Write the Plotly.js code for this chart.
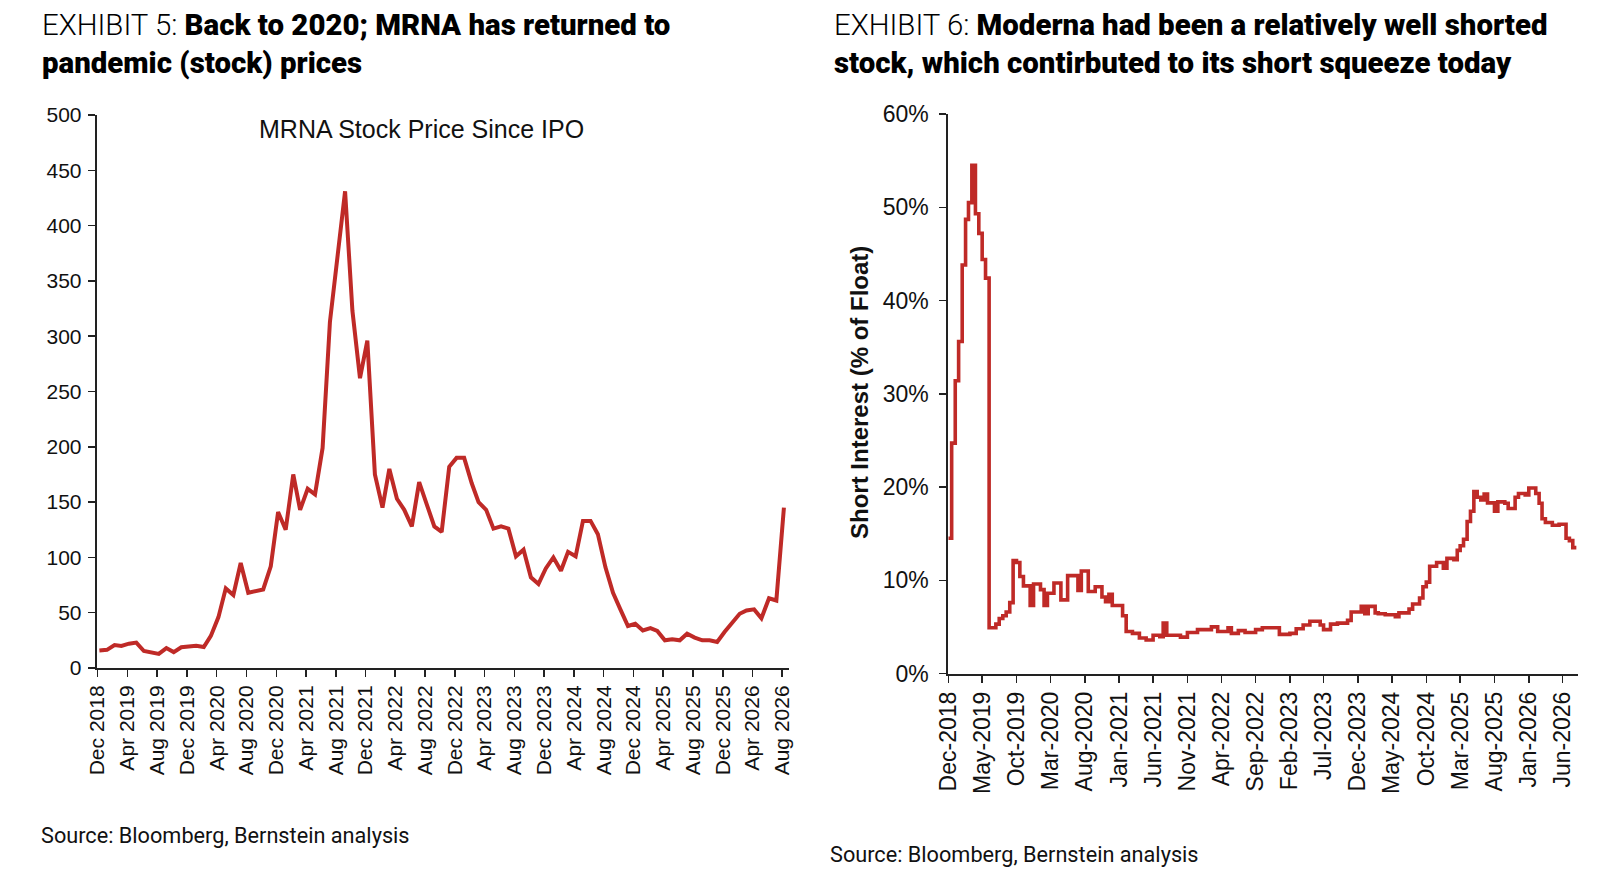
<!DOCTYPE html>
<html>
<head>
<meta charset="utf-8">
<script src="https://cdn.plot.ly/plotly-3.0.1.min.js"></script>
<style>
  html, body { margin: 0; padding: 0; background: #fff; }
  #chart { width: 1612px; height: 886px; }
</style>
</head>
<body>
<div id="chart"></div>
<script>
// ---------- DATA ----------
// Exhibit 5: MRNA monthly stock price, Dec 2018 .. Aug 2026 (93 months)
const priceStart = '2018-12';
const mrnaPrice = [
  15.8,                                                      // Dec 2018
  16.4, 20.8, 20.0, 22.0, 23.0, 15.4, 13.8, 12.7, 18.0, 14.4, 18.8, 19.0,   // 2019
  20.0, 19.0, 29.0, 46.0, 72.0, 66.0, 95.0, 68.0, 70.0, 71.0, 92.0, 141.0, // 2020
  125.0, 175.0, 143.0, 162.0, 157.0, 199.0, 313.0, 370.0, 431.0, 323.0, 262.0, 296.0, // 2021
  175.0, 145.0, 180.0, 153.0, 143.0, 128.0, 168.0, 148.0, 128.0, 123.0, 182.0, 190.0, // 2022
  190.0, 167.0, 150.0, 143.0, 126.0, 128.0, 126.0, 101.0, 107.0, 82.0, 76.0, 90.0,     // 2023
  100.0, 88.0, 105.0, 101.0, 133.0, 133.0, 121.0, 91.0, 68.0, 53.0, 38.0, 40.0,       // 2024
  34.0, 36.0, 33.5, 25.0, 26.0, 25.0, 31.0, 27.5, 25.0, 25.0, 23.5, 32.5,             // 2025
  41.0, 49.0, 52.0, 53.0, 45.0, 63.0, 61.0, 145.0                                      // 2026
];
const priceTickFormat = '%b %Y';

// Exhibit 6: short interest (% of float), semi-monthly readings from Dec 2018
const siStart = '2018-12';
const shortInterest = [
  14.5, 24.7, 31.4, 35.6, 43.8, 48.7, 50.5, 54.5, 49.3, 47.2, 44.4, 42.4, 4.9, 4.9, 5.3, 5.9, 6.2, 6.6, 7.6, 12.1, 11.9, 10.4, 9.4, 9.4,
  7.3, 9.6, 9.6, 9.0, 7.3, 8.6, 8.6, 9.7, 9.7, 7.9, 7.9, 10.5, 10.5, 10.5, 8.9, 11.0, 11.0, 8.8, 8.8, 9.3, 9.3, 8.2, 7.7, 8.5,
  7.3, 7.3, 7.3, 6.2, 4.5, 4.5, 4.3, 4.3, 3.8, 3.8, 3.6, 3.6, 4.1, 4.1, 3.95, 5.4, 4.1, 4.1, 4.1, 4.1, 3.9, 3.9, 4.4, 4.4,
  4.4, 4.7, 4.7, 4.7, 4.7, 5.0, 5.0, 4.5, 4.5, 4.5, 4.9, 4.3, 4.3, 4.6, 4.6, 4.4, 4.4, 4.4, 4.7, 4.7, 4.9, 4.9, 4.9, 4.9,
  4.9, 4.2, 4.2, 4.2, 4.3, 4.3, 4.8, 4.8, 5.2, 5.2, 5.6, 5.6, 5.6, 5.2, 4.7, 4.7, 5.3, 5.3, 5.4, 5.4, 5.4, 5.7, 6.6, 6.6,
  6.6, 7.2, 6.4, 7.2, 7.2, 6.5, 6.4, 6.4, 6.3, 6.3, 6.3, 6.1, 6.5, 6.5, 6.5, 6.9, 7.45, 7.45, 8.1, 9.3, 9.8, 11.5, 11.5, 11.9,
  11.9, 11.3, 12.35, 12.35, 12.2, 13.2, 13.7, 14.4, 16.3, 17.4, 19.5, 18.9, 18.6, 19.25, 18.3, 18.3, 17.4, 18.4, 18.4, 18.25, 17.7, 17.7, 18.9, 19.3,
  19.3, 19.15, 19.9, 19.9, 19.3, 18.25, 16.6, 16.2, 16.2, 15.9, 15.9, 16.0, 16.0, 14.5, 14.25, 13.5, 13.5
];
const siTickFormat = '%b-%Y';

// Text
const heavy = s => '<span style="font-weight:900">' + s + '</span>';
const light = s => '<span style="font-weight:300">' + s + '</span>';
const title5a = light('EXHIBIT 5: ') + heavy('Back to 2020; MRNA has returned to');
const title5b = heavy('pandemic (stock) prices');
const title6a = light('EXHIBIT 6: ') + heavy('Moderna had been a relatively well shorted');
const title6b = heavy('stock, which contirbuted to its short squeeze today');
const innerTitle5 = 'MRNA Stock Price Since IPO';
const yTitle6 = '<b>Short Interest (% of Float)</b>';
const sourceText = 'Source: Bloomberg, Bernstein analysis';

// ---------- helpers (x positions only) ----------
function pad(n) { return (n < 10 ? '0' : '') + n; }
function monthDates(start, n, day) {
  const [y0, m0] = start.split('-').map(Number);
  const out = [];
  for (let i = 0; i < n; i++) {
    const t = (m0 - 1) + i;
    const y = y0 + Math.floor(t / 12), m = (t % 12) + 1;
    out.push(y + '-' + pad(m) + '-' + pad(day));
  }
  return out;
}
function semiMonthDates(start, n) {
  const [y0, m0] = start.split('-').map(Number);
  const out = [];
  for (let j = 0; j < n; j++) {
    const t = (m0 - 1) + Math.floor(j / 2);
    const y = y0 + Math.floor(t / 12), m = (t % 12) + 1;
    out.push(y + '-' + pad(m) + '-' + (j % 2 === 0 ? '01' : '16'));
  }
  return out;
}

const W = 1612, H = 886;
const px = v => v / W;
const py = v => 1 - v / H;

const RED = '#BF2A27';
const tickFont = { family: 'Liberation Sans, Arial, sans-serif', size: 21, color: '#111' };
const tickFont2 = { family: 'Liberation Sans, Arial, sans-serif', size: 23, color: '#111' };
const titleFamily = 'Roboto, sans-serif';
const titleSize = 29.4;
const sourceSize = 21.7;

const traces = [
  {
    x: monthDates(priceStart, mrnaPrice.length, 8),
    y: mrnaPrice,
    type: 'scatter', mode: 'lines',
    line: { color: RED, width: 4 },
    xaxis: 'x', yaxis: 'y', hoverinfo: 'x+y'
  },
  {
    x: semiMonthDates(siStart, shortInterest.length),
    y: shortInterest,
    type: 'scatter', mode: 'lines',
    line: { color: RED, width: 3.6, shape: 'hv' },
    xaxis: 'x2', yaxis: 'y2', hoverinfo: 'x+y'
  }
];

const axisCommon = {
  showline: true, linecolor: '#222', linewidth: 2,
  ticks: 'outside', ticklen: 7, tickwidth: 1.5, tickcolor: '#222',
  showgrid: false, zeroline: false, tickfont: tickFont
};

const layout = {
  width: W, height: H,
  margin: { l: 0, r: 0, t: 0, b: 0 },
  paper_bgcolor: '#fff', plot_bgcolor: '#fff',
  showlegend: false,
  xaxis: Object.assign({}, axisCommon, {
    type: 'date', domain: [px(96.7), px(789.3)],
    range: ['2018-11-27', '2026-08-30'],
    tick0: '2018-12-01', dtick: 'M4', tickformat: priceTickFormat,
    tickangle: -90, anchor: 'y'
  }),
  yaxis: Object.assign({}, axisCommon, {
    domain: [py(668), py(115)], range: [0, 500], dtick: 50, anchor: 'x',
    ticklabelstandoff: 2
  }),
  xaxis2: Object.assign({}, axisCommon, {
    type: 'date', domain: [px(948.3), px(1577.7)],
    range: ['2018-12-01', '2026-08-07'],
    tick0: '2018-12-01', dtick: 'M5', tickformat: siTickFormat,
    tickangle: -90, anchor: 'y2', tickfont: tickFont2
  }),
  yaxis2: Object.assign({}, axisCommon, {
    domain: [py(673.5), py(114)], range: [0, 60], dtick: 10, ticksuffix: '%',
    anchor: 'x2', tickfont: tickFont2, ticklabelstandoff: 6
  }),
  annotations: [
    { text: title5a, x: px(40), y: py(25), xref: 'paper', yref: 'paper', xanchor: 'left', yanchor: 'middle', showarrow: false,
      font: { family: titleFamily, size: titleSize, color: '#000' } },
    { text: title5b, x: px(40), y: py(63), xref: 'paper', yref: 'paper', xanchor: 'left', yanchor: 'middle', showarrow: false,
      font: { family: titleFamily, size: titleSize, color: '#000' } },
    { text: title6a, x: px(832), y: py(25), xref: 'paper', yref: 'paper', xanchor: 'left', yanchor: 'middle', showarrow: false,
      font: { family: titleFamily, size: titleSize, color: '#000' } },
    { text: title6b, x: px(832), y: py(63), xref: 'paper', yref: 'paper', xanchor: 'left', yanchor: 'middle', showarrow: false,
      font: { family: titleFamily, size: titleSize, color: '#000' } },
    { text: innerTitle5, x: px(421), y: py(129), xref: 'paper', yref: 'paper', xanchor: 'center', yanchor: 'middle', showarrow: false,
      font: { family: 'Liberation Sans, Arial, sans-serif', size: 25, color: '#111' } },
    { text: yTitle6, x: px(860), y: py(393), xref: 'paper', yref: 'paper', xanchor: 'center', yanchor: 'middle', showarrow: false,
      textangle: -90, font: { family: 'Liberation Sans, Arial, sans-serif', size: 24, color: '#111' } },
    { text: sourceText, x: px(39), y: py(835), xref: 'paper', yref: 'paper', xanchor: 'left', yanchor: 'middle', showarrow: false,
      font: { family: titleFamily, size: sourceSize, color: '#111' } },
    { text: sourceText, x: px(828), y: py(854), xref: 'paper', yref: 'paper', xanchor: 'left', yanchor: 'middle', showarrow: false,
      font: { family: titleFamily, size: sourceSize, color: '#111' } }
  ]
};

Plotly.newPlot('chart', traces, layout, { displayModeBar: false, staticPlot: true });
</script>
</body>
</html>
